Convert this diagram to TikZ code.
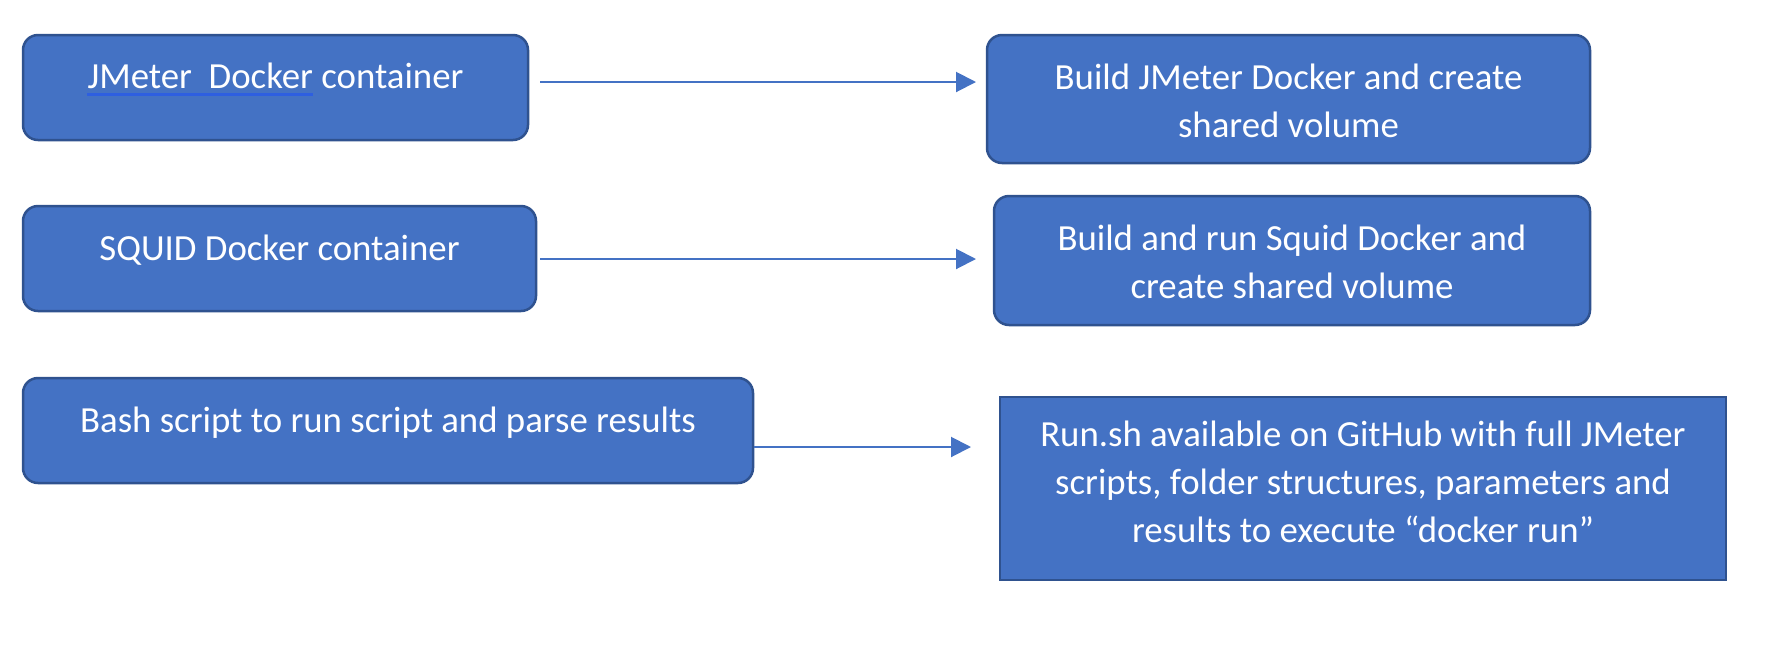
\documentclass[tikz,border=0pt]{standalone}
\usepackage{fontspec}
\setmainfont{Carlito}
\usetikzlibrary{arrows.meta,calc}
\definecolor{boxfill}{HTML}{4472C4}
\definecolor{boxline}{HTML}{2F528F}
\definecolor{ulblue}{HTML}{2E5FE0}
\tikzset{
  rbox/.style={draw=boxline, fill=boxfill, line width=2.5pt, rounded corners=15pt, inner sep=0pt},
  sbox/.style={draw=boxline, fill=boxfill, line width=2.5pt, inner sep=0pt},
  lbl/.style={text=white, inner sep=0pt, anchor=base, font=\fontsize{36.8}{48}\selectfont},
  conn/.style={draw=boxfill, line width=2pt, -{Triangle[length=20pt,width=20pt]}},
  squig/.style={draw=ulblue, line width=3pt}
}
\begin{document}
\begin{tikzpicture}[x=1pt,y=-1pt]
\useasboundingbox (0,0) rectangle (1770,649);
% boxes
\node[rbox, minimum width=505pt, minimum height=105pt] (b1) at (275.5,87.5) {};
\node[rbox, minimum width=603pt, minimum height=128pt] (b2) at (1288.5,99) {};
\node[rbox, minimum width=513pt, minimum height=105pt] (b3) at (279.5,258.5) {};
\node[rbox, minimum width=596pt, minimum height=129pt] (b4) at (1292,260.5) {};
\node[rbox, minimum width=730pt, minimum height=105pt] (b5) at (388,430.5) {};
\node[sbox, minimum width=726pt, minimum height=183pt] (b6) at (1363,488.5) {};
% texts
\node[lbl] (t1) at (275.5,88) {JMeter\ \ Docker container};
\node[lbl] (t2) at (1288.5,89) {\begin{tabular}[t]{@{}c@{}}Build JMeter Docker and create\\shared volume\end{tabular}};
\node[lbl] (t3) at (279.5,260) {SQUID Docker container};
\node[lbl] (t4) at (1292,250) {\begin{tabular}[t]{@{}c@{}}Build and run Squid Docker and\\create shared volume\end{tabular}};
\node[lbl] (t5) at (388,432) {Bash script to run script and parse results};
\node[lbl] (t6) at (1363,446) {\begin{tabular}[t]{@{}c@{}}Run.sh available on GitHub with full JMeter\\scripts, folder structures, parameters and\\results to execute “docker run”\end{tabular}};
% spell-check underline
\draw[squig] ($(t1.base west)+(0,6)$) -- ($($(t1.base west)!0.6!(t1.base east)$)+(0,6)$);
% connector ends
\coordinate (c1s) at (540,82);
\coordinate (c1e) at (976,82);
\coordinate (c2s) at (540,259);
\coordinate (c2e) at (976,259);
\coordinate (c3e) at (971,447);
\draw[conn] (c1s) -- (c1e);
\draw[conn] (c2s) -- (c2e);
\draw[conn] (b5.east |- c3e) -- (c3e);
\end{tikzpicture}
\end{document}
